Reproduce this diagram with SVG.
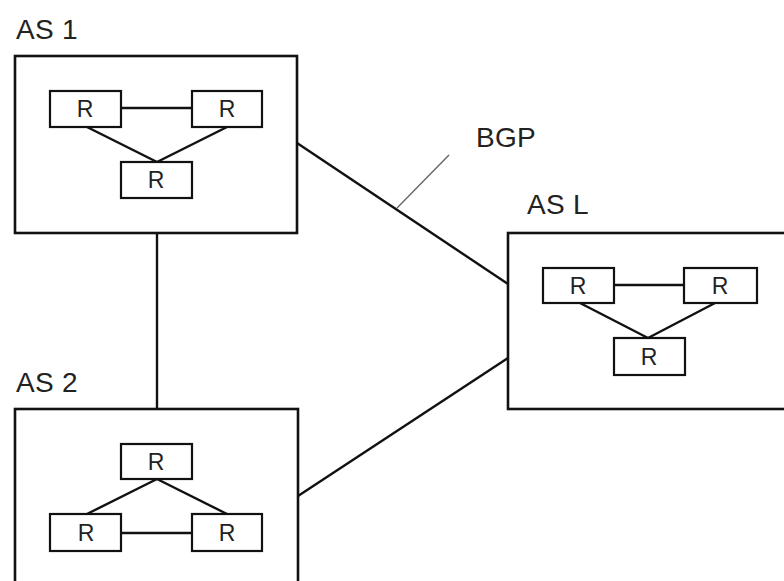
<svg xmlns="http://www.w3.org/2000/svg" width="784" height="581" viewBox="0 0 784 581">
  <style>
    .as { fill: #fff; stroke: #111; stroke-width: 2.6; }
    .rt { fill: #fff; stroke: #111; stroke-width: 2.2; }
    .ln { stroke: #111; stroke-width: 2.4; fill: none; }
    .lead { stroke: #666; stroke-width: 1.4; fill: none; }
    .lbl { font-family: "Liberation Sans", Arial, sans-serif; font-size: 28px; letter-spacing: 0.3px; fill: #222; }
    .r { font-family: "Liberation Sans", Arial, sans-serif; font-size: 23px; fill: #222; text-anchor: middle; }
  </style>
  <rect width="784" height="581" fill="#fff"/>

  <!-- inter-AS links -->
  <g id="connectors">
    <line class="ln" x1="157" y1="233" x2="157" y2="409"/>
    <line class="ln" x1="297" y1="143" x2="508" y2="284"/>
    <line class="ln" x1="298" y1="496" x2="508" y2="358"/>
    <line class="lead" x1="449" y1="155" x2="397" y2="208"/>
  </g>

  <text class="lbl" x="476" y="147">BGP</text>

  <g id="as1">
    <text class="lbl" x="16" y="39">AS 1</text>
    <rect class="as" x="15" y="56" width="282" height="177"/>
    <line class="ln" x1="121" y1="108" x2="192" y2="108"/>
    <line class="ln" x1="87" y1="127" x2="157" y2="162"/>
    <line class="ln" x1="227" y1="127" x2="157" y2="162"/>
    <rect class="rt" x="50" y="91" width="71" height="36"/>
    <rect class="rt" x="192" y="91" width="70" height="36"/>
    <rect class="rt" x="121" y="162" width="71" height="36"/>
    <text class="r" x="85" y="117">R</text>
    <text class="r" x="227" y="117">R</text>
    <text class="r" x="156" y="188">R</text>
  </g>

  <g id="as2">
    <text class="lbl" x="16" y="392">AS 2</text>
    <rect class="as" x="15" y="409" width="283" height="190"/>
    <line class="ln" x1="121" y1="533" x2="192" y2="533"/>
    <line class="ln" x1="157" y1="479" x2="87" y2="514"/>
    <line class="ln" x1="157" y1="479" x2="227" y2="514"/>
    <rect class="rt" x="121" y="444" width="71" height="35"/>
    <rect class="rt" x="50" y="514" width="71" height="37"/>
    <rect class="rt" x="192" y="514" width="70" height="37"/>
    <text class="r" x="156" y="470">R</text>
    <text class="r" x="86" y="541">R</text>
    <text class="r" x="227" y="541">R</text>
  </g>

  <g id="asl">
    <text class="lbl" x="527" y="214">AS L</text>
    <rect class="as" x="508" y="233" width="290" height="176"/>
    <line class="ln" x1="614" y1="285" x2="684" y2="285"/>
    <line class="ln" x1="580" y1="303" x2="648" y2="338"/>
    <line class="ln" x1="715" y1="303" x2="648" y2="338"/>
    <rect class="rt" x="543" y="268" width="71" height="35"/>
    <rect class="rt" x="684" y="268" width="73" height="35"/>
    <rect class="rt" x="614" y="338" width="71" height="37"/>
    <text class="r" x="578" y="294">R</text>
    <text class="r" x="720" y="294">R</text>
    <text class="r" x="649" y="365">R</text>
  </g>
</svg>
